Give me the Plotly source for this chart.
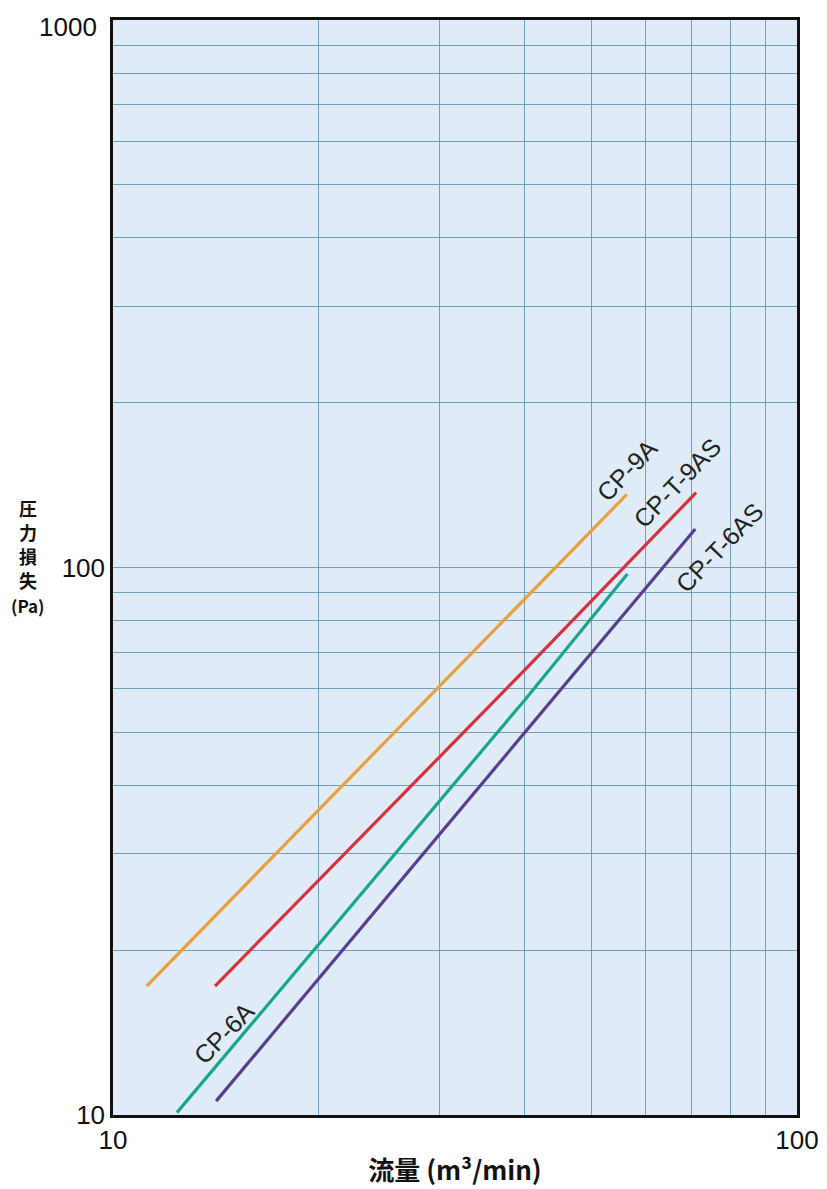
import plotly.graph_objects as go

# Data (flow m3/min, pressure loss Pa)
series_names = ["CP-9A", "CP-T-9AS", "CP-6A", "CP-T-6AS"]
cp9a_x = [11.2, 30.0, 56.4]
cp9a_y = [17.2, 60.6, 136.0]
cpt9as_x = [14.1, 40.0, 71.2]
cpt9as_y = [17.2, 65.0, 137.0]
cp6a_x = [12.4, 40.0, 56.5]
cp6a_y = [10.1, 57.3, 97.3]
cpt6as_x = [14.15, 40.0, 71.0]
cpt6as_y = [10.6, 50.1, 117.6]

x_grid = [10, 20, 30, 40, 50, 60, 70, 80, 90, 100]
x_labels = ["10", "", "", "", "", "", "", "", "", "100"]
y_grid = [10, 20, 30, 40, 50, 60, 70, 80, 90, 100, 200, 300, 400, 500, 600, 700, 800, 900, 1000]
y_labels = ["10", "", "", "", "", "", "", "", "", "100", "", "", "", "", "", "", "", "", ""]
y_top_label = "1000"

colors = ["#E9A03E", "#D7313E", "#17A88A", "#5A3E8E"]
xs = [cp9a_x, cpt9as_x, cp6a_x, cpt6as_x]
ys = [cp9a_y, cpt9as_y, cp6a_y, cpt6as_y]

# page body has an 8px default margin, so the figure is shifted by it
L, T, PW, PH = 105, 12, 684, 1095

fig = go.Figure()
for name, x, y, c in zip(series_names, xs, ys, colors):
    fig.add_trace(go.Scatter(x=x, y=y, mode="lines", name=name,
                             line=dict(color=c, width=3.2), showlegend=False))

# rotated series labels (log10 coordinates)
labels = [("CP-9A", 1.7515, 2.178), ("CP-T-9AS", 1.8246, 2.1543),
          ("CP-T-6AS", 1.8874, 2.0374), ("CP-6A", 1.1623, 1.1498)]
for t, lx, ly in labels:
    fig.add_annotation(x=lx, y=ly, xref="x", yref="y", text=t, showarrow=False,
                       textangle=-46, font=dict(size=25, color="#222222",
                                                family="Liberation Sans, Arial"))

# top y tick label (would be clipped as a tick label at the figure edge)
fig.add_annotation(xref="paper", yref="paper", x=-0.02, y=1.0, text=y_top_label,
                   showarrow=False, xanchor="right", yanchor="top", yshift=10,
                   font=dict(size=26, color="#111111", family="Liberation Sans, Arial"))

# vertical stacked y-axis title (page pixel centres)
ytitle_chars = ["圧", "力", "損", "失", "(Pa)"]
ytitle_py = [508, 532, 556, 580, 605]
for ch, py in zip(ytitle_chars, ytitle_py):
    fig.add_annotation(xref="paper", yref="paper", x=(28 - 113) / PW,
                       y=1 - (py - 20) / PH, text="<b>" + ch + "</b>",
                       showarrow=False, xanchor="center", yanchor="middle",
                       font=dict(size=18 if len(ch) == 1 else 17, color="#111111",
                                 family="Noto Sans CJK JP"))

fig.update_layout(
    width=827, height=1189,
    margin=dict(l=L, r=827 - L - PW, t=T, b=1189 - T - PH),
    paper_bgcolor="white", plot_bgcolor="#DFEBF7",
    font=dict(family="Liberation Sans, Arial", color="#111111"),
    xaxis=dict(type="log", range=[1, 2], tickmode="array", tickvals=x_grid,
               ticktext=x_labels, showgrid=True, gridcolor="#72A0BC", gridwidth=1.3,
               showline=True, linecolor="#111111", linewidth=2.5, mirror=True,
               ticks="", tickfont=dict(size=26), automargin=False,
               title=dict(text="<b>流量 (m³/min)</b>", standoff=8,
                          font=dict(size=26, family="Noto Sans CJK JP"))),
    yaxis=dict(type="log", range=[1, 3], tickmode="array", tickvals=y_grid,
               ticktext=y_labels, showgrid=True, gridcolor="#72A0BC", gridwidth=1.3,
               showline=True, linecolor="#111111", linewidth=2.5, mirror=True,
               ticks="", tickfont=dict(size=26), automargin=False),
)

fig.write_html("out.html")
